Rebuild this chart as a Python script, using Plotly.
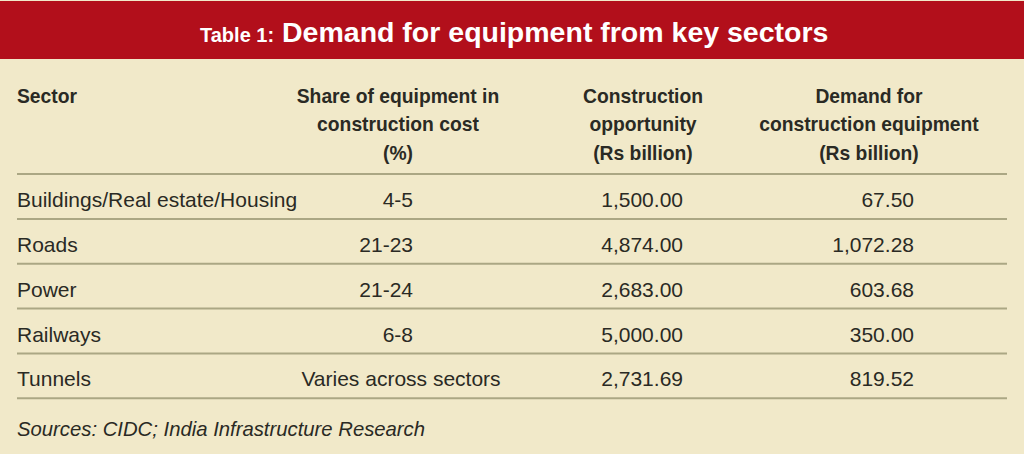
"""
Table 1: Demand for equipment from key sectors, rebuilt as a Plotly figure.
"""
import plotly.graph_objects as go

# --- Data ---
sectors = ["Buildings/Real estate/Housing", "Roads", "Power", "Railways", "Tunnels"]
equipment_share = ["4-5", "21-23", "21-24", "6-8", "Varies across sectors"]
construction_opportunity = [1500.00, 4874.00, 2683.00, 5000.00, 2731.69]
equipment_demand = [67.50, 1072.28, 603.68, 350.00, 819.52]

header_lines = [
    ["Sector"],
    ["Share of equipment in", "construction cost", "(%)"],
    ["Construction", "opportunity", "(Rs billion)"],
    ["Demand for", "construction equipment", "(Rs billion)"],
]
title_prefix = "Table 1:"
title_main = "Demand for equipment from key sectors"
source_note = "Sources: CIDC; India Infrastructure Research"

# --- Layout constants (pixel space, 1024 x 454) ---
W, H = 1024, 454
RED = "#B20F1B"
BEIGE = "#F1E9C9"
RULE = "#ABA784"
INK = "#2A2A24"
FONT = "Liberation Sans, Arial, sans-serif"

LEFT, RIGHT = 17, 1007
HEADER_Y0, HEADER_PITCH = 98, 28.5
HEADER_X = [LEFT, 398, 643, 869]
ROW_Y0, ROW_PITCH = 202, 44.8
RULE_OFFSET = 17          # rule sits this far below a row's text
COL2_RIGHT, COL2_CENTER = 413, 401
COL3_RIGHT, COL4_RIGHT = 683, 914

row_y = [ROW_Y0 + i * ROW_PITCH for i in range(len(sectors))]

fig = go.Figure()

# header text
for c, lines in enumerate(header_lines):
    fig.add_trace(go.Scatter(
        x=[HEADER_X[c]] * len(lines),
        y=[HEADER_Y0 + k * HEADER_PITCH for k in range(len(lines))],
        mode="text",
        text=lines,
        textposition="middle right" if c == 0 else "middle center",
        textfont=dict(family=FONT, size=19.3, color=INK, weight="bold"),
        hoverinfo="skip",
    ))

body_font = dict(family=FONT, size=21, color=INK)

# sector names
fig.add_trace(go.Scatter(
    x=[LEFT] * len(sectors), y=row_y, mode="text", text=sectors,
    textposition="middle right", textfont=body_font, hoverinfo="skip",
))

# share column: ranges right aligned, free text centred
is_range = [s[0].isdigit() for s in equipment_share]
fig.add_trace(go.Scatter(
    x=[COL2_RIGHT if r else COL2_CENTER for r in is_range], y=row_y,
    mode="text", text=equipment_share,
    textposition=["middle left" if r else "middle center" for r in is_range],
    textfont=body_font, hoverinfo="skip",
))

# numeric columns
for col_x, values in [(COL3_RIGHT, construction_opportunity),
                      (COL4_RIGHT, equipment_demand)]:
    fig.add_trace(go.Scatter(
        x=[col_x] * len(values), y=row_y, mode="text",
        text=[f"{v:,.2f}" for v in values],
        textposition="middle left", textfont=body_font, hoverinfo="skip",
    ))

# source note
fig.add_trace(go.Scatter(
    x=[LEFT], y=[row_y[-1] + ROW_PITCH + 5], mode="text",
    text=[f"<i>{source_note}</i>"], textposition="middle right",
    textfont=dict(family=FONT, size=20.3, color=INK), hoverinfo="skip",
))

# banner and rules
shapes = [dict(type="rect", xref="x", yref="y", x0=0, x1=W, y0=1, y1=59,
               fillcolor=RED, line_width=0, layer="below")]
rule_y = [174] + [y + RULE_OFFSET for y in row_y]
for y in rule_y:
    shapes.append(dict(type="line", xref="x", yref="y", x0=LEFT, x1=RIGHT,
                       y0=y, y1=y, line=dict(color=RULE, width=2)))

fig.update_layout(
    width=W, height=H,
    margin=dict(l=0, r=0, t=0, b=0),
    paper_bgcolor=BEIGE, plot_bgcolor=BEIGE,
    showlegend=False,
    shapes=shapes,
    xaxis=dict(range=[0, W], visible=False, fixedrange=True),
    yaxis=dict(range=[H, 0], visible=False, fixedrange=True),
    annotations=[dict(
        x=514, y=32, xref="x", yref="y", showarrow=False,
        text=f"<span style='font-size:20px'>{title_prefix}</span> {title_main}",
        font=dict(family=FONT, size=28.5, color="white", weight="bold"),
    )],
)

# drop the browser's default body margin so the figure fills the window
fig.write_html(
    "out.html",
    config={"displayModeBar": False},
    post_script="document.body.style.margin='0';",
)
